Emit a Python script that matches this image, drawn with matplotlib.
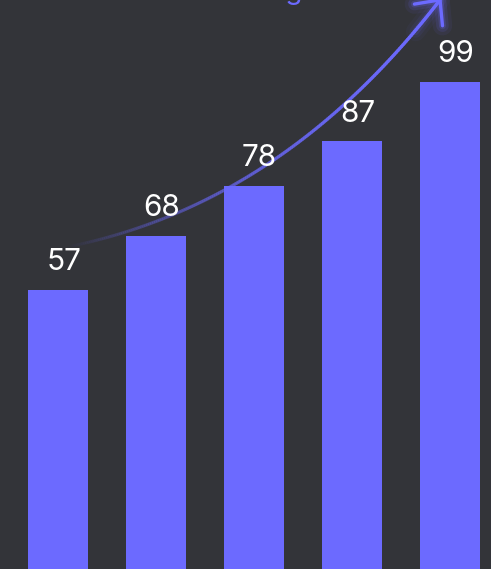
import numpy as np
import matplotlib
matplotlib.use("Agg")
import matplotlib.pyplot as plt
from matplotlib.collections import LineCollection

# Chart data
categories = ["A", "B", "C", "D", "E"]
values = [57, 68, 78, 87, 99]
value_labels = ["57", "68", "78", "87", "99"]
headline = "Strong"

BG = "#333439"
BAR = "#6c6aff"
TEXT = "#ffffff"

fig = plt.figure(figsize=(4.91, 5.69), dpi=100, facecolor=BG)
ax = fig.add_axes([0, 0, 1, 1], facecolor=BG)

x = np.arange(len(categories))
ax.bar(x, values, width=0.612, color=BAR, zorder=2)

ax.set_xlim(-0.592, 4.418)
ax.set_ylim(0.67, 115.57)
ax.axis("off")

# Value labels above each bar
for xi, v, lab in zip(x, values, value_labels):
    ax.annotate(lab, (xi, v), xytext=(4, 10), textcoords="offset points",
                ha="center", va="bottom", color=TEXT, fontsize=21.5,
                family=["Inter", "DejaVu Sans"], zorder=4)

# Trend arrow: quadratic Bezier in data space, fading in along its length
p0 = np.array([0.092, 65.7])
p1 = np.array([2.296, 74.4])
p2 = np.array([3.898, 115.6])
t = np.linspace(0, 1, 200)[:, None]
curve = (1 - t) ** 2 * p0 + 2 * t * (1 - t) * p1 + t ** 2 * p2
segs = np.stack([curve[:-1], curve[1:]], axis=1)
alphas = np.clip(np.linspace(0.0, 1.0, len(segs)) ** 1.0, 0, 1)
rgba = np.array([matplotlib.colors.to_rgba(BAR)] * len(segs))
rgba[:, 3] = alphas
lc = LineCollection(segs, colors=rgba, linewidths=2.4, capstyle="round", zorder=3)
ax.add_collection(lc)

# Arrowhead built in display space so its angle is true on screen
disp = ax.transData.transform(np.vstack([p1, p2]))
tip = disp[1]
back = disp[0] - disp[1]
back /= np.linalg.norm(back)
head_len = 26
arms = []
for ang in (np.radians(43), -np.radians(43)):
    rot = np.array([[np.cos(ang), -np.sin(ang)], [np.sin(ang), np.cos(ang)]])
    arms.append(tip + head_len * rot @ back)
inv = ax.transData.inverted()
head = inv.transform(np.vstack([arms[0], tip, arms[1]]))
tail = inv.transform(np.vstack([tip + 40 * back, tip]))
for lw, a in ((14, 0.07), (9, 0.12), (5, 0.2)):
    ax.plot(head[:, 0], head[:, 1], color=BAR, lw=lw, alpha=a,
            solid_capstyle="round", solid_joinstyle="round", zorder=3, clip_on=False)
    ax.plot(tail[:, 0], tail[:, 1], color=BAR, lw=lw, alpha=a * 0.6,
            solid_capstyle="round", zorder=3, clip_on=False)
ax.plot(head[:, 0], head[:, 1], color=BAR, lw=2.4, solid_capstyle="round",
        solid_joinstyle="round", zorder=3, clip_on=False)

# Headline sitting just above the plotting area
ax.text(2.5, 115.77, headline, ha="right", va="baseline", color=BAR,
        fontsize=20, family=["Inter", "DejaVu Sans"], zorder=4)

fig.savefig("out.png", dpi=100, facecolor=BG)
